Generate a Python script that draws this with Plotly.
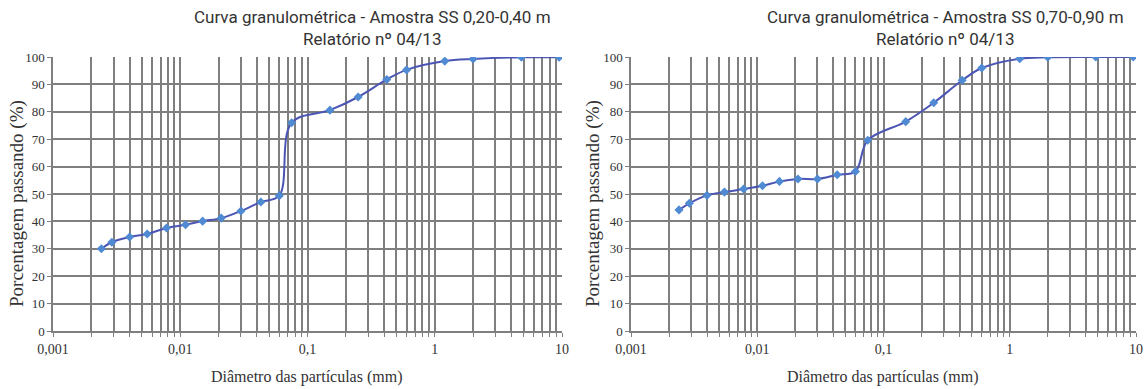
import plotly.graph_objects as go
from plotly.subplots import make_subplots

# Sieve / sedimentation diameters (mm)
diam = [0.0024, 0.0029, 0.0040, 0.0055, 0.0078, 0.011, 0.015, 0.021, 0.030,
        0.043, 0.060, 0.075, 0.15, 0.25, 0.42, 0.60, 1.2, 2.0, 4.8, 9.5]
# % passing, sample SS 0,20-0,40 m
pass_a = [30.0, 32.4, 34.3, 35.4, 37.6, 38.8, 40.1, 41.2, 43.8, 47.1,
          49.4, 76.0, 80.6, 85.4, 91.8, 95.3, 98.5, 99.3, 99.9, 99.9]
# % passing, sample SS 0,70-0,90 m
pass_b = [44.2, 46.6, 49.5, 50.7, 51.8, 53.0, 54.6, 55.5, 55.5, 57.0,
          58.2, 69.6, 76.4, 83.3, 91.5, 96.0, 99.4, 99.9, 100.0, 100.0]

titles = ["Curva granulométrica - Amostra SS 0,20-0,40 m<br>Relatório nº 04/13",
          "Curva granulométrica - Amostra SS 0,70-0,90 m<br>Relatório nº 04/13"]
x_title = "Diâmetro das partículas (mm)"
y_title = "Porcentagem passando (%)"

decades = [0.001, 0.01, 0.1, 1, 10]
decade_labels = ["0,001", "0,01", "0,1", "1", "10"]
y_ticks = list(range(0, 101, 10))

# grid positions at every 1..9 multiple of each decade
grid_vals, grid_text = [], []
for d, lab in zip(decades[:-1], decade_labels[:-1]):
    for m in range(1, 10):
        grid_vals.append(d * m)
        grid_text.append(lab if m == 1 else "")
grid_vals.append(10)
grid_text.append("10")

W, H = 1145, 389


def px_x(p):
    return p / W


def px_y(p):
    return 1 - p / H


fig = make_subplots(rows=1, cols=2, horizontal_spacing=0.06)

line_col = "#4b55b4"
mark_col = "#4f8ad3"
for i, ys in enumerate([pass_a, pass_b]):
    fig.add_trace(go.Scatter(
        x=diam, y=ys, mode="lines+markers", line=dict(color=line_col, width=2, shape="spline"),
        marker=dict(symbol="diamond", size=7, color=mark_col),
        showlegend=False), row=1, col=i + 1)

serif = "Liberation Serif, Times New Roman, serif"
narrow = "Roboto, Liberation Sans, sans-serif"
grid_col = "#7f7f7f"

dom_x = [[px_x(53), px_x(562)], [px_x(631), px_x(1136)]]
dom_y = [px_y(331), px_y(57)]
for i in range(2):
    xa = "xaxis" if i == 0 else "xaxis2"
    ya = "yaxis" if i == 0 else "yaxis2"
    fig.update_layout({
        xa: dict(type="log", domain=dom_x[i], range=[-3, 1], tickvals=grid_vals, ticktext=grid_text,
                 showgrid=True, gridcolor=grid_col, gridwidth=1.5, zeroline=False,
                 showline=True, linecolor=grid_col, linewidth=1.5, automargin=False,
                 ticks="outside", ticklen=4, tickcolor=grid_col,
                 tickfont=dict(family=serif, size=14, color="#333333")),
        ya: dict(domain=dom_y, range=[0, 100], tickvals=y_ticks,
                 showgrid=True, gridcolor=grid_col, gridwidth=1.5, zeroline=False,
                 showline=True, linecolor=grid_col, linewidth=1.5, automargin=False,
                 ticks="outside", ticklen=4, tickcolor=grid_col,
                 tickfont=dict(family=serif, size=13, color="#333333")),
    })

ann = []
title_x = [372, 945]
xt_x = [307, 883]
yt_x = [17, 593]
for i in range(2):
    ann.append(dict(text=titles[i], x=px_x(title_x[i]), y=px_y(28), xref="paper", yref="paper",
                    showarrow=False, xanchor="center", yanchor="middle",
                    font=dict(family=narrow, size=17, color="#333333")))
    ann.append(dict(text=x_title, x=px_x(xt_x[i]), y=px_y(377), xref="paper", yref="paper",
                    showarrow=False, xanchor="center", yanchor="middle",
                    font=dict(family=serif, size=16, color="#333333")))
    ann.append(dict(text=y_title, x=px_x(yt_x[i]), y=px_y(204), xref="paper", yref="paper",
                    showarrow=False, xanchor="center", yanchor="middle", textangle=-90,
                    font=dict(family=serif, size=19, color="#333333")))

fig.update_layout(width=W, height=H, margin=dict(l=0, r=0, t=0, b=0, autoexpand=False),
                  paper_bgcolor="white", plot_bgcolor="white", annotations=ann)

# remove the default page margin so the figure fills the window exactly
fig.write_html("out.html", config={"displayModeBar": False},
               post_script="document.body.style.margin='0';document.body.style.overflow='hidden';")
